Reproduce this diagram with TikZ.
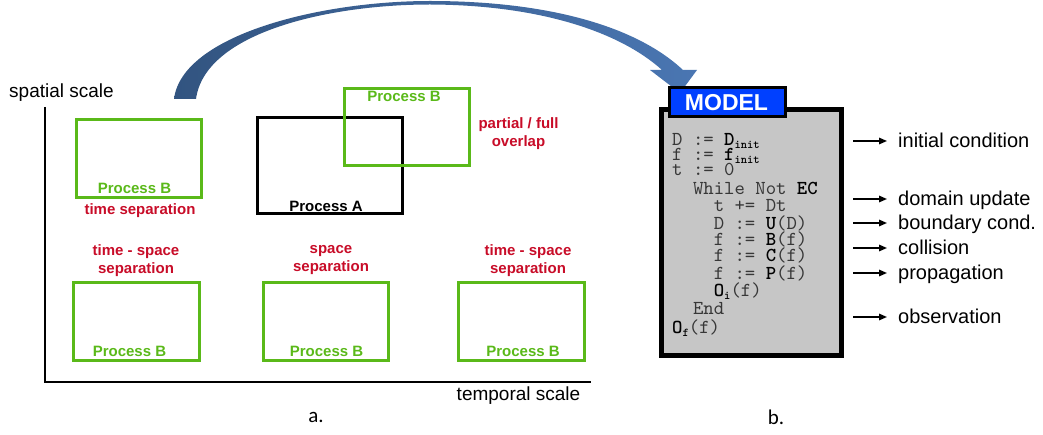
\documentclass[tikz,border=0pt]{standalone}
\usepackage{fontspec}
\setmainfont{Liberation Sans}
\setmonofont[BoldFont=lmmonolt10-bold.otf]{lmmono10-regular.otf}
\newfontfamily\calib{Carlito}
\usetikzlibrary{arrows.meta}
\definecolor{pgreen}{RGB}{90,185,25}
\definecolor{pred}{RGB}{200,12,40}
\definecolor{mblue}{RGB}{0,64,255}
\definecolor{mgray}{RGB}{198,198,198}
\definecolor{cgray}{RGB}{55,55,55}
\definecolor{arrdark}{RGB}{50,84,128}
\definecolor{arrlight}{RGB}{74,118,178}
\newcommand{\cb}[1]{{\color{black}\bfseries #1}}
\newcommand{\csub}[1]{\raisebox{-3pt}{\color{black}\fontsize{12}{12}\selectfont\bfseries #1}}
\begin{document}
\begin{tikzpicture}[x=1pt,y=-1pt,
  gbox/.style={draw=pgreen,line width=3pt,inner sep=0pt,rectangle},
  kbox/.style={draw=black,line width=3pt,inner sep=0pt,rectangle},
  glab/.style={text=pgreen,font=\fontsize{15}{18}\selectfont\bfseries,inner sep=0pt},
  rlab/.style={text=pred,font=\fontsize{15}{18}\selectfont\bfseries,inner sep=0pt,align=center},
  axlab/.style={font=\fontsize{19}{22}\selectfont,inner sep=0pt},
  code/.style={anchor=base west,inner sep=0pt,text=cgray,font=\ttfamily\fontsize{19.8}{22}\selectfont},
  rtext/.style={anchor=base west,inner sep=0pt,font=\fontsize{20}{24}\selectfont},
  smallarr/.style={line width=1.5pt,-{Triangle[length=8pt,width=6.5pt]}}
]
\useasboundingbox (0,0) rectangle (1043,435);

% curved arrow
\shade[left color=arrdark,right color=arrlight]
  (174,99) .. controls (182,35) and (320,1) .. (430,1)
  .. controls (545,1) and (635,25) .. (683,70)
  -- (697,70) -- (680,93) -- (650,70) -- (662,70)
  .. controls (620,32) and (540,5) .. (430,4.5)
  .. controls (330,4.5) and (205,32) .. (196,99) -- cycle;

% axes
\coordinate (ytop) at (45,107);
\coordinate (orig) at (45,382);
\coordinate (xend) at (591,382);
\draw[line width=2.2pt] (ytop) -- (orig) -- (xend);
\node[axlab] (yl) at (61.5,93) {spatial scale};
\node[axlab] (xl) at (518.5,396) {temporal scale};
\node[inner sep=0pt,font=\calib\fontsize{21}{24}\selectfont] (la) at (316,417) {a.};
\node[inner sep=0pt,font=\calib\fontsize{21}{24}\selectfont] (lb) at (776,417) {b.};

% process boxes
\node[gbox,minimum width=125pt,minimum height=78pt] (b1) at (139,158.5) {};
\node[glab] (b1t) at (134.5,188) {Process B};
\node[rlab] (b1r) at (140,211) {time separation};

\node[kbox,minimum width=145pt,minimum height=96pt] (pa) at (330,165.5) {};
\node[glab,text=black] (pat) at (326,206) {Process A};

\node[gbox,minimum width=125pt,minimum height=77pt] (b2) at (407,127) {};
\node[glab] (b2t) at (404,96) {Process B};
\node[rlab] (b2r) at (518.5,133.5) {partial / full\\overlap};

\node[gbox,minimum width=126pt,minimum height=78pt] (b3) at (136.5,321.5) {};
\node[glab] (b3t) at (129.5,351) {Process B};
\node[rlab] (b3r) at (136,260.5) {time - space\\separation};

\node[gbox,minimum width=125pt,minimum height=78pt] (b4) at (326,321.5) {};
\node[glab] (b4t) at (326.5,351) {Process B};
\node[rlab] (b4r) at (331,260.5) {space\\separation};

\node[gbox,minimum width=126pt,minimum height=78pt] (b5) at (521.5,321.5) {};
\node[glab] (b5t) at (523,351) {Process B};
\node[rlab] (b5r) at (528,260.5) {time - space\\separation};

% model box
\draw[line width=5pt,fill=mgray] (661.5,109.5) rectangle (841.5,355.5);
\node[draw=black,line width=3pt,fill=mblue,inner sep=0pt,minimum width=116pt,minimum height=29pt] (tab) at (727.5,102) {};
\node[inner sep=0pt,text=white,font=\fontsize{23}{26}\selectfont\bfseries] (tabt) at (726.5,103) {MODEL};

\node[code] (c1) at (672,146) {D := \cb{D}\csub{init}};
\node[code] (c2) at (672,161) {f := \cb{f}\csub{init}};
\node[code] (c3) at (672,176) {t := 0};
\node[code] (c4) at (692.8,195) {While Not \cb{EC}};
\node[code] (c5) at (713.6,212) {t += Dt};
\node[code] (c6) at (713.6,230) {D := \cb{U}(D)};
\node[code] (c7) at (713.6,246) {f := \cb{B}(f)};
\node[code] (c8) at (713.6,262) {f := \cb{C}(f)};
\node[code] (c9) at (713.6,280) {f := \cb{P}(f)};
\node[code] (c10) at (713.6,297) {\cb{O}\csub{i}(f)};
\node[code] (c11) at (692.8,315) {End};
\node[code] (c12) at (672,333) {\cb{O}\csub{f}(f)};

% right labels
\foreach \n/\y/\t in {1/141/initial condition,2/199/domain update,3/223/boundary cond.,4/248/collision,5/273/propagation,6/317/observation}{
  \coordinate (as\n) at (853,\y);
  \coordinate (ae\n) at (887,\y);
  \draw[smallarr] (as\n) -- (ae\n);
  \node[rtext] (rl\n) at (898,\y+6.5) {\t};
}
\end{tikzpicture}
\end{document}
